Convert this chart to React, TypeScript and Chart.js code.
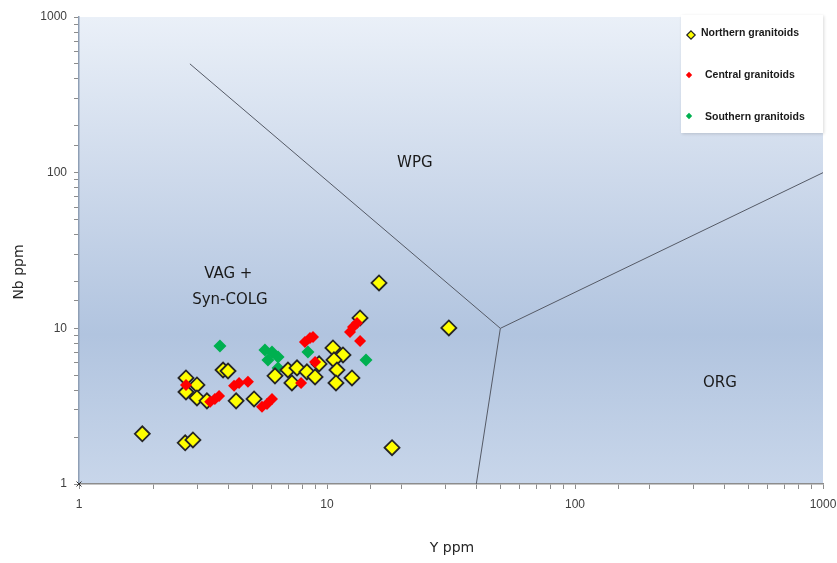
import React, { useEffect, useRef } from 'react';
import { Chart, registerables } from 'chart.js';

Chart.register(...registerables);

// Northern granitoids (Y ppm, Nb ppm)
const northernY = [1.8, 2.68, 2.88, 2.7, 2.7, 2.99, 2.99, 3.28, 3.81, 3.99, 4.3, 5.08, 6.17, 6.96, 7.22, 7.57, 8.3, 8.95, 9.29, 10.57, 11.6, 10.67, 10.97, 10.87, 12.61, 13.59, 16.21, 31.0, 18.29];
const northernNb = [2.1, 1.84, 1.92, 4.8, 3.9, 4.33, 3.57, 3.42, 5.4, 5.32, 3.42, 3.52, 4.95, 5.4, 4.46, 5.57, 5.25, 4.87, 5.91, 7.48, 6.75, 6.27, 5.4, 4.46, 4.8, 11.66, 19.57, 10.06, 1.71];

// Central granitoids
const centralY = [2.7, 3.38, 3.53, 3.67, 4.22, 4.42, 4.8, 5.47, 5.73, 6.0, 7.86, 8.15, 8.54, 8.78, 8.95, 12.38, 12.73, 13.21, 13.59];
const centralNb = [4.33, 3.37, 3.52, 3.68, 4.27, 4.46, 4.53, 3.13, 3.27, 3.52, 4.46, 8.18, 8.67, 8.81, 6.08, 9.48, 10.21, 10.83, 8.3];

// Southern granitoids
const southernY = [3.7, 5.62, 6.0, 6.35, 5.78, 6.35, 8.38, 14.36];
const southernNb = [7.71, 7.27, 7.05, 6.55, 6.27, 5.57, 7.05, 6.27];

// Field boundaries
const wpgLineY = [2.8, 50];
const wpgLineNb = [500, 10];
const orgLineY = [50, 1000];
const orgLineNb = [10, 100];
const bottomLineY = [50, 40];
const bottomLineNb = [10, 1];

// Tick labels
const xTickLabels = [1, 10, 100, 1000];
const yTickLabels = [1, 10, 100, 1000];

// Field labels
const fieldNames = ['WPG', 'ORG', 'VAG +', 'Syn-COLG'];
const fieldY = [22.6, 384, 4.0, 4.06];
const fieldNb = [115, 4.46, 22.3, 15.2];

const seriesNames = ['Northern granitoids', 'Central granitoids', 'Southern granitoids'];

const pts = (xs: number[], ys: number[]) => xs.map((x, i) => ({ x, y: ys[i] }));

export default function App() {
  const ref = useRef<HTMLCanvasElement | null>(null);

  useEffect(() => {
    if (!ref.current) return;

    const bgPlugin = {
      id: 'bg',
      beforeDraw(chart: any) {
        const { ctx, chartArea } = chart;
        ctx.save();
        ctx.fillStyle = '#ffffff';
        ctx.fillRect(0, 0, chart.width, chart.height);
        const g = ctx.createLinearGradient(0, chartArea.top, 0, chartArea.bottom);
        g.addColorStop(0, '#eaf0f8');
        g.addColorStop(0.35, '#cdd9eb');
        g.addColorStop(0.68, '#b1c4df');
        g.addColorStop(1, '#c8d6ea');
        ctx.fillStyle = g;
        ctx.fillRect(chartArea.left, chartArea.top, chartArea.right - chartArea.left, chartArea.bottom - chartArea.top);
        ctx.restore();
      },
    };

    const overlayPlugin = {
      id: 'overlay',
      afterDraw(chart: any) {
        const { ctx, scales } = chart;
        const xs = scales.x;
        const ys = scales.y;
        ctx.save();
        // field labels
        ctx.fillStyle = '#1a1a1a';
        ctx.font = '15px "DejaVu Sans"';
        ctx.textAlign = 'center';
        ctx.textBaseline = 'middle';
        fieldNames.forEach((t, i) => {
          ctx.fillText(t, xs.getPixelForValue(fieldY[i]), ys.getPixelForValue(fieldNb[i]));
        });
        // axis titles
        ctx.fillStyle = '#262626';
        ctx.font = '14px "DejaVu Sans"';
        ctx.fillText('Y ppm', 452, 548);
        ctx.save();
        ctx.translate(19, 272);
        ctx.rotate(-Math.PI / 2);
        ctx.fillText('Nb ppm', 0, 0);
        ctx.restore();

        // legend box
        const lx = 681, ly = 15, lw = 142, lh = 118;
        ctx.shadowColor = 'rgba(0,0,0,0.15)';
        ctx.shadowBlur = 3;
        ctx.shadowOffsetX = 1;
        ctx.shadowOffsetY = 1;
        ctx.fillStyle = '#ffffff';
        ctx.fillRect(lx, ly, lw, lh);
        ctx.shadowColor = 'transparent';
        const diamond = (cx: number, cy: number, r: number, fill: string, stroke?: string) => {
          ctx.beginPath();
          ctx.moveTo(cx, cy - r);
          ctx.lineTo(cx + r, cy);
          ctx.lineTo(cx, cy + r);
          ctx.lineTo(cx - r, cy);
          ctx.closePath();
          ctx.fillStyle = fill;
          ctx.fill();
          if (stroke) {
            ctx.strokeStyle = stroke;
            ctx.lineWidth = 1.2;
            ctx.stroke();
          }
        };
        diamond(691, 35, 4.2, '#ffff00', '#222222');
        diamond(689, 75, 3.2, '#ff0000');
        diamond(689, 116, 3.2, '#00b050');
        ctx.fillStyle = '#1a1a1a';
        ctx.font = 'bold 10.5px "Liberation Sans"';
        ctx.textAlign = 'left';
        ctx.fillText(seriesNames[0], 701, 33);
        ctx.fillText(seriesNames[1], 705, 75);
        ctx.fillText(seriesNames[2], 705, 117);
        ctx.restore();
      },
    };

    const lineDs = (xs: number[], ys: number[]) => ({
      type: 'line' as const,
      data: pts(xs, ys),
      borderColor: '#555a66',
      borderWidth: 1,
      pointRadius: 0,
      showLine: true,
      fill: false,
      order: 5,
    });

    const chart = new Chart(ref.current, {
      type: 'scatter',
      data: {
        datasets: [
          lineDs(wpgLineY, wpgLineNb),
          lineDs(orgLineY, orgLineNb),
          lineDs(bottomLineY, bottomLineNb),
          {
            label: seriesNames[2],
            data: pts(southernY, southernNb),
            pointStyle: 'rectRot',
            pointRadius: 6.5,
            backgroundColor: '#00b050',
            borderColor: '#00b050',
            borderWidth: 0,
            order: 3,
          },
          {
            label: seriesNames[0],
            data: pts(northernY, northernNb),
            pointStyle: 'rectRot',
            pointRadius: 7.5,
            backgroundColor: '#ffff00',
            borderColor: '#262626',
            borderWidth: 1.8,
            order: 2,
          },
          {
            label: seriesNames[1],
            data: pts(centralY, centralNb),
            pointStyle: 'rectRot',
            pointRadius: 6,
            backgroundColor: '#ff0000',
            borderColor: '#ff0000',
            borderWidth: 0,
            order: 1,
          },
          {
            label: 'origin',
            data: [{ x: 1, y: 1 }],
            pointStyle: 'crossRot',
            pointRadius: 3.5,
            borderColor: '#333333',
            borderWidth: 1,
            clip: false,
            order: 0,
          } as any,
        ],
      },
      options: {
        responsive: false,
        animation: false,
        devicePixelRatio: 1,
        layout: { padding: { top: 17, right: 14, left: 0, bottom: 0 } },
        plugins: { legend: { display: false }, tooltip: { enabled: false } },
        scales: {
          x: {
            type: 'logarithmic',
            min: 1,
            max: 1000,
            afterFit: (s: any) => { s.height = 79; s.paddingLeft = 0; s.paddingRight = 0; },
            border: { color: '#8c8c8c', width: 1.5 },
            grid: { drawOnChartArea: false, drawTicks: true, tickLength: 5, color: '#8c8c8c' },
            ticks: {
              autoSkip: false,
              maxRotation: 0,
              padding: 8,
              color: '#404040',
              font: { family: '"Liberation Sans"', size: 12 },
              callback: (v: any) => (xTickLabels.includes(Number(v)) ? String(v) : ''),
            },
          },
          y: {
            type: 'logarithmic',
            min: 1,
            max: 1000,
            afterFit: (s: any) => { s.width = 79; s.paddingTop = 0; s.paddingBottom = 0; },
            border: { color: '#8f9fb5', width: 1.5 },
            grid: { drawOnChartArea: false, drawTicks: true, tickLength: 5, color: '#8c8c8c' },
            ticks: {
              autoSkip: false,
              padding: 7,
              color: '#404040',
              font: { family: '"Liberation Sans"', size: 12 },
              callback: (v: any) => (yTickLabels.includes(Number(v)) ? String(v) : ''),
            },
          },
        },
      },
      plugins: [bgPlugin, overlayPlugin],
    } as any);

    return () => chart.destroy();
  }, []);

  return (
    <div style={{ position: 'fixed', left: 0, top: 0, width: 837, height: 563, background: '#fff' }}>
      <canvas ref={ref} width={837} height={563} style={{ width: 837, height: 563, display: 'block' }} />
    </div>
  );
}
